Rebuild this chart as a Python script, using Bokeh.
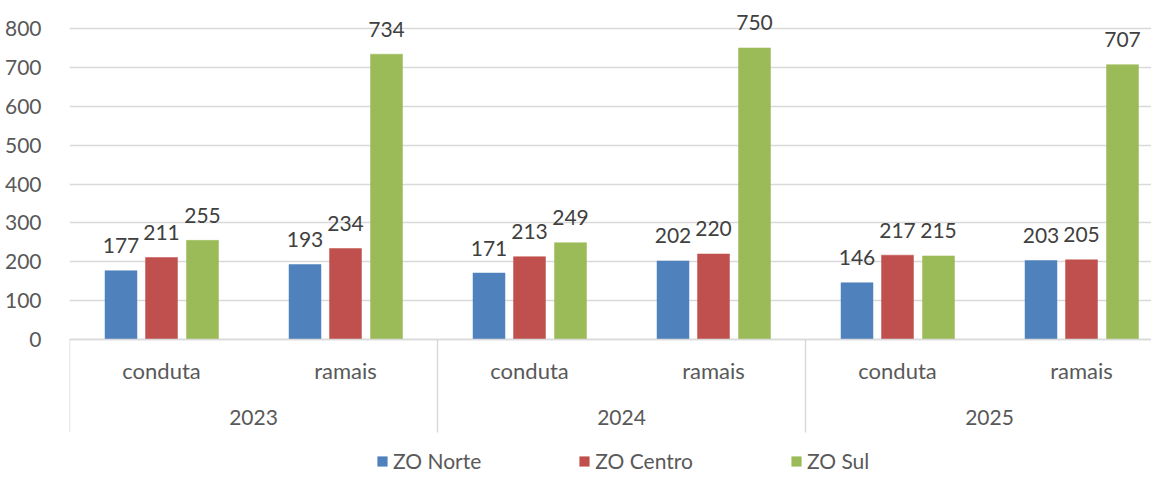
from bokeh.plotting import figure
from bokeh.models import ColumnDataSource, FixedTicker, Range1d, Legend, LegendItem
from bokeh.core.properties import value
from bokeh.embed import file_html
from bokeh.resources import INLINE

years = ["2023", "2024", "2025"]
types = ["conduta", "ramais"]
series = ["ZO Norte", "ZO Centro", "ZO Sul"]
norte = [177, 193, 171, 202, 146, 203]
centro = [211, 234, 213, 220, 217, 205]
sul = [255, 734, 249, 750, 215, 707]
colors = ["#4F81BD", "#C0504D", "#9BBB59"]
yticks = [0, 100, 200, 300, 400, 500, 600, 700, 800]

FONT = "Lato"
W, H = 1151, 473
left = 69
px_per_unit_y = 311.0 / 800.0
zero_from_top = 339
sub_px = 184.0

y_start = -(H - zero_from_top) / px_per_unit_y
y_end = zero_from_top / px_per_unit_y
x_end = (W - left) / sub_px

p = figure(width=W, height=H, output_backend="svg", toolbar_location=None,
           x_range=Range1d(0, x_end), y_range=Range1d(y_start, y_end),
           min_border_left=left, min_border_right=0, min_border_top=0, min_border_bottom=0)
p.outline_line_color = None
p.xaxis.visible = False
p.xgrid.visible = False
p.ygrid.ticker = FixedTicker(ticks=yticks)
p.ygrid.grid_line_color = "#D9D9D9"
p.ygrid.grid_line_width = 1.3
p.yaxis.ticker = FixedTicker(ticks=yticks)
p.yaxis.axis_line_color = None
p.yaxis.major_tick_line_color = None
p.yaxis.minor_tick_line_color = None
p.yaxis.major_label_standoff = 22
p.yaxis.major_label_text_font = FONT
p.yaxis.major_label_text_font_size = "21px"
p.yaxis.major_label_text_color = "#595959"

n = len(norte)
centers = [i + 0.5 for i in range(n)]
offsets = [-40.5 / sub_px, 0.0, 41.0 / sub_px]
bw = 32.0 / sub_px
renderers = []
for vals, off, col in zip([norte, centro, sul], offsets, colors):
    src = ColumnDataSource(dict(x=[c + off for c in centers], top=vals,
                                lab=[str(v) for v in vals]))
    r = p.vbar(x="x", top="top", bottom=0, width=bw, source=src,
               fill_color=col, line_color=col, line_width=0.5)
    renderers.append(r)
    p.text(x="x", y="top", text="lab", source=src, text_align="center",
           text_baseline="middle", y_offset=-25, text_font=value(FONT),
           text_font_size="21px", text_color="#404040")

# axis baseline
p.segment(x0=[0], y0=[0], x1=[x_end], y1=[0], line_color="#D9D9D9", line_width=1.5)

# group separators
sep_len = 93 / px_per_unit_y
seps = [2 * i for i in range(len(years))]
p.segment(x0=seps, y0=[0] * len(seps), x1=seps, y1=[-sep_len] * len(seps),
          line_color="#D9D9D9", line_width=1.5)

# category labels
sub_labels = [types[i % 2] for i in range(n)]
p.text(x=centers, y=[0] * n, text=sub_labels, text_align="center",
       text_baseline="middle", y_offset=31, text_font=value(FONT),
       text_font_size="22px", text_color="#595959")
p.text(x=[2 * i + 1 for i in range(len(years))], y=[0] * len(years), text=years,
       text_align="center", text_baseline="middle", y_offset=78,
       text_font=value(FONT), text_font_size="21px", text_color="#595959")

legend = Legend(items=[LegendItem(label=s, renderers=[r]) for s, r in zip(series, renderers)],
                orientation="horizontal", location=(307, 0), padding=0, margin=0,
                spacing=97, glyph_width=12, glyph_height=12, label_standoff=5,
                label_text_font=FONT, label_text_font_size="21px",
                label_text_color="#595959", border_line_color=None,
                background_fill_alpha=0)
p.add_layout(legend)

open("out.html", "w").write(file_html(p, INLINE))
